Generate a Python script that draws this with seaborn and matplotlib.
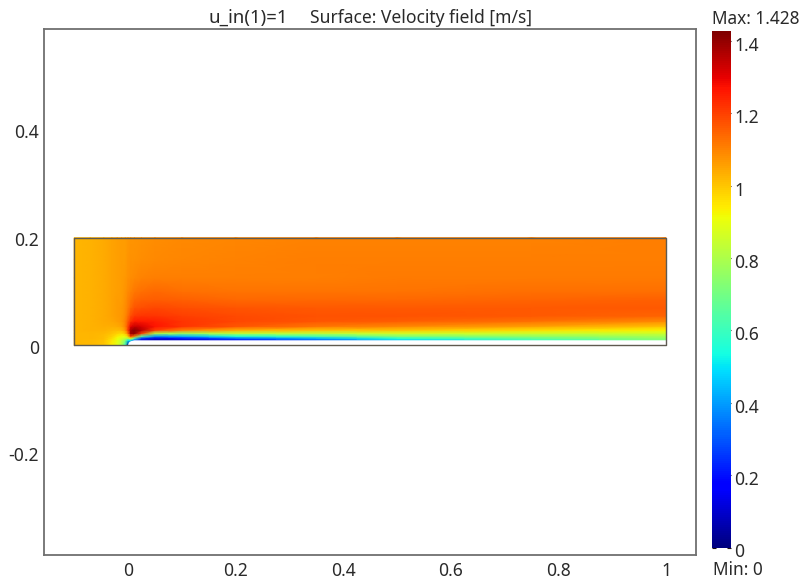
import numpy as np
import pandas as pd
import matplotlib
matplotlib.use("Agg")
import matplotlib.pyplot as plt
from matplotlib.transforms import ScaledTranslation
import seaborn as sns

title_left = "u_in(1)=1"
title_right = "Surface: Velocity field [m/s]"
x_ticks = [0, 0.2, 0.4, 0.6, 0.8, 1]
x_tick_labels = ["0", "0.2", "0.4", "0.6", "0.8", "1"]
y_ticks = [-0.2, 0, 0.2, 0.4]
y_tick_labels = ["-0.2", "0", "0.2", "0.4"]
cbar_ticks = [0, 0.2, 0.4, 0.6, 0.8, 1, 1.2, 1.4]
cbar_tick_labels = ["0", "0.2", "0.4", "0.6", "0.8", "1", "1.2", "1.4"]
v_min = 0.0
v_max = 1.428

x_stations = [-0.1, -0.07, -0.045, -0.03, -0.02, -0.012, -0.005, 0, 0.005, 0.012,
              0.025, 0.05, 0.1, 0.2, 0.35, 0.5, 0.75, 1.0]
y_stations = [0, 0.0093, 0.013, 0.017, 0.022, 0.028, 0.035, 0.045, 0.055, 0.07,
              0.085, 0.1, 0.125, 0.16, 0.2]

# speed; one list per x station, bottom to top
u_01 = [1.025, 1.025, 1.025, 1.025, 1.025, 1.025, 1.025, 1.025, 1.025, 1.025, 1.025, 1.025, 1.025, 1.025, 1.025]
u_02 = [1.02, 1.02, 1.025, 1.025, 1.025, 1.03, 1.03, 1.03, 1.03, 1.03, 1.03, 1.03, 1.03, 1.03, 1.03]
u_03 = [1.0, 1.005, 1.01, 1.015, 1.02, 1.03, 1.035, 1.04, 1.04, 1.04, 1.04, 1.04, 1.04, 1.04, 1.04]
u_04 = [0.94, 0.95, 0.97, 0.985, 1.0, 1.02, 1.035, 1.045, 1.05, 1.05, 1.05, 1.05, 1.05, 1.05, 1.05]
u_05 = [0.89, 0.9, 0.91, 0.94, 0.98, 1.01, 1.04, 1.055, 1.06, 1.06, 1.06, 1.055, 1.055, 1.055, 1.055]
u_06 = [0.8, 0.84, 0.88, 0.91, 0.96, 1.02, 1.05, 1.07, 1.07, 1.07, 1.065, 1.065, 1.06, 1.06, 1.06]
u_07 = [0.6, 0.72, 0.82, 0.92, 1.0, 1.07, 1.1, 1.1, 1.09, 1.085, 1.08, 1.075, 1.07, 1.065, 1.065]
u_08 = [0.0, 0.5, 0.8, 0.98, 1.12, 1.2, 1.19, 1.16, 1.13, 1.11, 1.1, 1.09, 1.08, 1.075, 1.07]
u_09 = [0.2, 0.5, 0.9, 1.2, 1.38, 1.38, 1.3, 1.22, 1.18, 1.14, 1.12, 1.1, 1.085, 1.078, 1.072]
u_10 = [0.1, 0.3, 0.6, 1.1, 1.4, 1.42, 1.34, 1.26, 1.21, 1.17, 1.14, 1.12, 1.09, 1.08, 1.074]
u_11 = [0.08, 0.12, 0.25, 0.65, 1.2, 1.36, 1.32, 1.26, 1.22, 1.18, 1.15, 1.13, 1.1, 1.085, 1.078]
u_12 = [0.05, 0.07, 0.12, 0.38, 0.8, 1.2, 1.27, 1.25, 1.22, 1.19, 1.16, 1.14, 1.11, 1.09, 1.085]
u_13 = [0.1, 0.1, 0.2, 0.42, 0.75, 1.1, 1.22, 1.22, 1.2, 1.18, 1.15, 1.13, 1.11, 1.095, 1.09]
u_14 = [0.15, 0.18, 0.32, 0.55, 0.82, 1.03, 1.17, 1.19, 1.185, 1.17, 1.14, 1.125, 1.11, 1.1, 1.095]
u_15 = [0.28, 0.3, 0.42, 0.62, 0.82, 1.0, 1.12, 1.17, 1.175, 1.165, 1.14, 1.125, 1.11, 1.105, 1.1]
u_16 = [0.42, 0.46, 0.56, 0.72, 0.86, 1.0, 1.09, 1.16, 1.175, 1.165, 1.14, 1.125, 1.115, 1.105, 1.1]
u_17 = [0.58, 0.6, 0.66, 0.75, 0.85, 0.96, 1.05, 1.13, 1.165, 1.165, 1.145, 1.13, 1.115, 1.105, 1.1]
u_18 = [0.7, 0.72, 0.75, 0.79, 0.85, 0.93, 1.0, 1.09, 1.145, 1.165, 1.15, 1.13, 1.115, 1.105, 1.105]

domain_x = [-0.1, 1, 1, -0.1, -0.1]
domain_y = [0, 0, 0.2, 0.2, 0]
plate_x = [0, 0.0015, 0.005, 0.012, 1, 1, 0]
plate_y = [0, 0.005, 0.0075, 0.0093, 0.0093, 0, 0]

field = pd.DataFrame(
    np.array([u_01, u_02, u_03, u_04, u_05, u_06, u_07, u_08, u_09, u_10, u_11,
              u_12, u_13, u_14, u_15, u_16, u_17, u_18]).T,
    index=y_stations, columns=x_stations)

sns.set_theme(style="white")
plt.rcParams["font.family"] = ["Noto Sans", "DejaVu Sans"]
text_color = "#2a2a2a"
line_color = "#707070"
cmap = matplotlib.colormaps["jet"]

W, H = 802, 583
fig = plt.figure(figsize=(W / 100, H / 100), dpi=100, facecolor="white")

def px_rect(left, top, right, bottom):
    return [left / W, 1 - bottom / H, (right - left) / W, (bottom - top) / H]

def shift_labels(labels, dy_px):
    off = ScaledTranslation(0, -dy_px / 100, fig.dpi_scale_trans)
    for lab in labels:
        lab.set_transform(lab.get_transform() + off)

ax = fig.add_axes(px_rect(44, 28.5, 696, 555))
ax.pcolormesh(field.columns.values, field.index.values, field.values,
              cmap=cmap, vmin=v_min, vmax=v_max, shading="gouraud", rasterized=True)
ax.fill(plate_x, plate_y, color="white", zorder=3, lw=0)
ax.plot(domain_x, domain_y, color="#5f5a50", lw=1.0, zorder=4)
ax.set_xlim((44 - 128) / 538, (696 - 128) / 538)
ax.set_ylim((345.3 - 555) / 538, (345.3 - 28.5) / 538)
ax.set_xticks(x_ticks, x_tick_labels)
ax.set_yticks(y_ticks, y_tick_labels)
ax.tick_params(axis="both", length=0, labelsize=12.6, labelcolor=text_color)
ax.tick_params(axis="x", pad=5)
ax.tick_params(axis="y", pad=3.5)
ax.grid(False)
for s in ax.spines.values():
    s.set_color(line_color)
    s.set_linewidth(1.3)
shift_labels(ax.get_yticklabels(), 1.2)

fig.text(208 / W, 1 - 18 / H, title_left, ha="left", va="center", fontsize=13.4, color=text_color)
fig.text(310 / W, 1 - 18 / H, title_right, ha="left", va="center", fontsize=12.6, color=text_color)

cax = fig.add_axes(px_rect(712, 31, 731, 547.5))
levels = np.linspace(v_max, v_min, 256)[:, None]
sns.heatmap(levels, ax=cax, cmap=cmap, vmin=v_min, vmax=v_max, cbar=False,
            xticklabels=False, yticklabels=False)
pos = [(v_max - v) / (v_max - v_min) * len(levels) for v in cbar_ticks]
cax.yaxis.tick_right()
cax.set_yticks(pos, cbar_tick_labels, rotation=0)
cax.tick_params(axis="y", right=True, left=True, direction="in", length=3, width=0.8,
                color="#201010", labelsize=12.6, labelcolor=text_color, pad=2.5)
for s in cax.spines.values():
    s.set_visible(False)
shift_labels(cax.get_yticklabels(), 2.8)

fig.text(756 / W, 1 - 19.5 / H, f"Max: {v_max:.3f}", ha="center", va="center", fontsize=12.4, color=text_color)
fig.text(713 / W, 1 - 570 / H, f"Min: {v_min:.0f}", ha="left", va="center", fontsize=12.4, color=text_color)

fig.savefig("out.png", dpi=100, facecolor="white")
